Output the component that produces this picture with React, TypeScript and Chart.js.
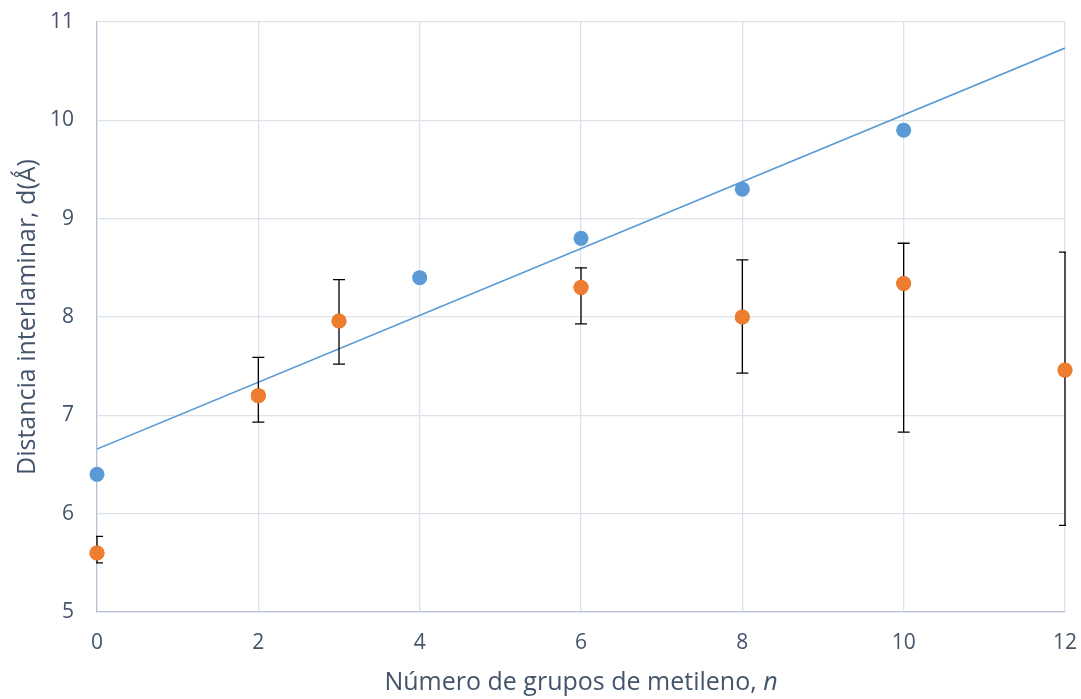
import React, { useEffect, useRef } from "react";
import { Chart, registerables } from "chart.js";

Chart.register(...registerables);

const blueX = [0, 4, 6, 8, 10];
const blueY = [6.4, 8.4, 8.8, 9.3, 9.9];

const orangeX = [0, 2, 3, 6, 8, 10, 12];
const orangeY = [5.6, 7.2, 7.96, 8.3, 8.0, 8.34, 7.46];
const orangeHigh = [5.77, 7.59, 8.38, 8.5, 8.58, 8.75, 8.66];
const orangeLow = [5.5, 6.93, 7.52, 7.93, 7.43, 6.83, 5.88];

const xTicks = [0, 2, 4, 6, 8, 10, 12];
const yTicks = [5, 6, 7, 8, 9, 10, 11];

const xTitleMain = "Número de grupos de metileno, ";
const xTitleItalic = "n";
const yTitle = "Distancia interlaminar, d(Å\u0301)";

const FONT = "'Open Sans', 'Noto Sans', sans-serif";
const TEXT_COLOR = "#44546a";

function linearFit(xs: number[], ys: number[]) {
  const n = xs.length;
  const mx = xs.reduce((a, b) => a + b, 0) / n;
  const my = ys.reduce((a, b) => a + b, 0) / n;
  let sxy = 0, sxx = 0;
  for (let i = 0; i < n; i++) {
    sxy += (xs[i] - mx) * (ys[i] - my);
    sxx += (xs[i] - mx) * (xs[i] - mx);
  }
  const m = sxy / sxx;
  return { m, b: my - m * mx };
}

const errorBarPlugin = {
  id: "errorBars",
  afterDatasetsDraw(chart: any) {
    const { ctx, chartArea, scales } = chart;
    const xs = scales.x, ys = scales.y;
    ctx.save();
    ctx.beginPath();
    ctx.rect(chartArea.left - 1, chartArea.top - 1, chartArea.right - chartArea.left + 2, chartArea.bottom - chartArea.top + 2);
    ctx.clip();
    ctx.strokeStyle = "#000000";
    ctx.lineWidth = 1.3;
    for (let i = 0; i < orangeX.length; i++) {
      const px = xs.getPixelForValue(orangeX[i]);
      const pHi = ys.getPixelForValue(orangeHigh[i]);
      const pLo = ys.getPixelForValue(orangeLow[i]);
      ctx.beginPath();
      ctx.moveTo(px, pHi);
      ctx.lineTo(px, pLo);
      ctx.moveTo(px - 6, pHi);
      ctx.lineTo(px + 6, pHi);
      ctx.moveTo(px - 6, pLo);
      ctx.lineTo(px + 6, pLo);
      ctx.stroke();
    }
    ctx.restore();
    const meta = chart.getDatasetMeta(2);
    meta.data.forEach((el: any) => el.draw(ctx, chartArea));
  },
  afterDraw(chart: any) {
    const { ctx, chartArea } = chart;
    ctx.save();
    ctx.fillStyle = TEXT_COLOR;
    ctx.textBaseline = "middle";
    ctx.font = `25px ${FONT}`;
    const w1 = ctx.measureText(xTitleMain).width;
    ctx.font = `italic 25px ${FONT}`;
    const w2 = ctx.measureText(xTitleItalic).width;
    const cx = (chartArea.left + chartArea.right) / 2;
    const startX = cx - (w1 + w2) / 2;
    ctx.textAlign = "left";
    ctx.font = `25px ${FONT}`;
    ctx.fillText(xTitleMain, startX, 683);
    ctx.font = `italic 25px ${FONT}`;
    ctx.fillText(xTitleItalic, startX + w1, 683);
    ctx.translate(28, (chartArea.top + chartArea.bottom) / 2);
    ctx.rotate(-Math.PI / 2);
    ctx.textAlign = "center";
    ctx.font = `25px ${FONT}`;
    ctx.fillText(yTitle, 0, 0);
    ctx.restore();
  },
};

export default function App() {
  const ref = useRef<HTMLCanvasElement>(null);
  useEffect(() => {
    document.body.style.margin = "0";
    const fit = linearFit(blueX, blueY);
    const xMin = xTicks[0], xMax = xTicks[xTicks.length - 1];
    const chart = new Chart(ref.current!, {
      type: "scatter",
      data: {
        datasets: [
          {
            type: "line",
            label: "trend",
            data: [
              { x: xMin, y: fit.b + fit.m * xMin },
              { x: xMax, y: fit.b + fit.m * xMax },
            ],
            borderColor: "#5b9bd5",
            borderWidth: 1.6,
            pointRadius: 0,
            fill: false,
          },
          {
            label: "blue",
            data: blueX.map((x, i) => ({ x, y: blueY[i] })),
            backgroundColor: "#5b9bd5",
            borderColor: "#5b9bd5",
            pointRadius: 7.5,
            borderWidth: 0,
            clip: false,
          },
          {
            label: "orange",
            data: orangeX.map((x, i) => ({ x, y: orangeY[i] })),
            backgroundColor: "#ed7d31",
            borderColor: "#ed7d31",
            pointRadius: 7.5,
            borderWidth: 0,
            clip: false,
          },
        ],
      },
      options: {
        animation: false,
        responsive: false,
        events: [],
        layout: { padding: { top: 22, right: 16, left: 0, bottom: 0 } },
        plugins: { legend: { display: false }, tooltip: { enabled: false } },
        scales: {
          x: {
            type: "linear",
            min: xMin,
            max: xMax,
            afterBuildTicks: (s: any) => { s.ticks = xTicks.map((v) => ({ value: v })); },
            afterFit: (s: any) => { s.height = 87; s.paddingLeft = 0; s.paddingRight = 0; },
            grid: { color: "#dde2ea", lineWidth: 1.3, drawTicks: false },
            border: { color: "#b8c2d2", width: 1.3 },
            ticks: { color: TEXT_COLOR, font: { family: FONT, size: 21 }, padding: 18 },
            title: { display: false },
          },
          y: {
            type: "linear",
            min: yTicks[0],
            max: yTicks[yTicks.length - 1],
            afterBuildTicks: (s: any) => { s.ticks = yTicks.map((v) => ({ value: v })); },
            afterFit: (s: any) => { s.width = 97; s.paddingTop = 0; s.paddingBottom = 0; },
            grid: { color: "#dde2ea", lineWidth: 1.3, drawTicks: false },
            border: { color: "#b8c2d2", width: 1.3 },
            ticks: { color: TEXT_COLOR, font: { family: FONT, size: 21 }, padding: 23 },
            title: { display: false },
          },
        },
      },
      plugins: [errorBarPlugin],
    });
    return () => chart.destroy();
  }, []);
  return (
    <div style={{ width: 1081, height: 699 }}>
      <canvas ref={ref} width={1081} height={699} />
    </div>
  );
}
